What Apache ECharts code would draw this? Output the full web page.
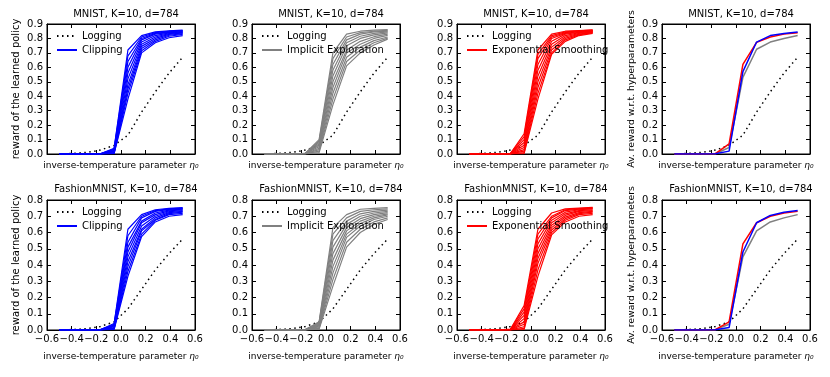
<!DOCTYPE html>
<html>
<head>
<meta charset="utf-8">
<script src="https://cdn.jsdelivr.net/npm/echarts@6.0.0/dist/echarts.min.js"></script>
<style>
    html, body { margin: 0; padding: 0; background: #fff; }
    #chart { width: 830px; height: 377px; }
</style>
</head>
<body>
<div id="chart"></div>
<script>
    // inverse-temperature parameter eta0 (x positions of all curves)
    const eta = [-0.5, -0.389, -0.278, -0.167, -0.056, 0.056, 0.167, 0.278, 0.389, 0.5];

    // logging policy reward
    const logMnist   = [0.0, 0.004, 0.011, 0.027, 0.06, 0.13, 0.29, 0.43, 0.56, 0.67];
    const logFashion = [0.0, 0.003, 0.008, 0.022, 0.05, 0.13, 0.25, 0.37, 0.47, 0.56];

    // MNIST, one curve per hyperparameter value
    const clipMnist = [
        [0, 0, 0, 0.002, 0.040, 0.72, 0.82, 0.845, 0.852, 0.858],
        [0, 0, 0, 0.002, 0.035, 0.68, 0.81, 0.840, 0.850, 0.855],
        [0, 0, 0, 0.002, 0.030, 0.64, 0.80, 0.835, 0.846, 0.852],
        [0, 0, 0, 0.001, 0.025, 0.60, 0.79, 0.830, 0.842, 0.848],
        [0, 0, 0, 0.001, 0.020, 0.56, 0.775, 0.820, 0.838, 0.845],
        [0, 0, 0, 0.001, 0.015, 0.52, 0.76, 0.810, 0.833, 0.842],
        [0, 0, 0, 0.001, 0.010, 0.48, 0.745, 0.800, 0.828, 0.838],
        [0, 0, 0, 0.000, 0.008, 0.45, 0.73, 0.790, 0.822, 0.833],
        [0, 0, 0, 0.000, 0.005, 0.42, 0.715, 0.780, 0.815, 0.828],
        [0, 0, 0, 0.000, 0.003, 0.38, 0.70, 0.770, 0.805, 0.820]
    ];
    const ixMnist = [
        [0, 0, 0, 0.005, 0.100, 0.70, 0.83, 0.850, 0.857, 0.862],
        [0, 0, 0, 0.005, 0.090, 0.66, 0.81, 0.840, 0.850, 0.856],
        [0, 0, 0, 0.004, 0.080, 0.62, 0.79, 0.830, 0.845, 0.851],
        [0, 0, 0, 0.004, 0.070, 0.58, 0.77, 0.815, 0.835, 0.845],
        [0, 0, 0, 0.003, 0.060, 0.54, 0.75, 0.800, 0.825, 0.839],
        [0, 0, 0, 0.003, 0.050, 0.50, 0.72, 0.780, 0.812, 0.830],
        [0, 0, 0, 0.002, 0.040, 0.46, 0.70, 0.760, 0.800, 0.821],
        [0, 0, 0, 0.002, 0.030, 0.42, 0.67, 0.740, 0.785, 0.810],
        [0, 0, 0, 0.001, 0.020, 0.38, 0.64, 0.720, 0.770, 0.802],
        [0, 0, 0, 0.001, 0.010, 0.34, 0.61, 0.700, 0.755, 0.795]
    ];
    const esMnist = [
        [0, 0, 0, 0.003, 0.140, 0.72, 0.83, 0.850, 0.855, 0.860],
        [0, 0, 0, 0.003, 0.120, 0.69, 0.82, 0.845, 0.852, 0.857],
        [0, 0, 0, 0.002, 0.100, 0.66, 0.81, 0.840, 0.850, 0.855],
        [0, 0, 0, 0.002, 0.080, 0.62, 0.80, 0.835, 0.847, 0.852],
        [0, 0, 0, 0.002, 0.060, 0.58, 0.78, 0.830, 0.843, 0.850],
        [0, 0, 0, 0.001, 0.045, 0.54, 0.76, 0.820, 0.840, 0.848],
        [0, 0, 0, 0.001, 0.030, 0.50, 0.74, 0.810, 0.835, 0.845],
        [0, 0, 0, 0.001, 0.020, 0.46, 0.72, 0.800, 0.830, 0.842],
        [0, 0, 0, 0.000, 0.010, 0.42, 0.70, 0.790, 0.825, 0.840],
        [0, 0, 0, 0.000, 0.003, 0.38, 0.69, 0.780, 0.820, 0.835]
    ];

    // FashionMNIST, one curve per hyperparameter value
    const clipFashion = [
        [0, 0, 0, 0.002, 0.040, 0.62, 0.71, 0.740, 0.748, 0.753],
        [0, 0, 0, 0.002, 0.035, 0.58, 0.70, 0.735, 0.745, 0.750],
        [0, 0, 0, 0.002, 0.030, 0.54, 0.69, 0.730, 0.742, 0.747],
        [0, 0, 0, 0.001, 0.025, 0.51, 0.67, 0.720, 0.738, 0.744],
        [0, 0, 0, 0.001, 0.020, 0.48, 0.66, 0.710, 0.733, 0.740],
        [0, 0, 0, 0.001, 0.015, 0.45, 0.64, 0.700, 0.728, 0.735],
        [0, 0, 0, 0.001, 0.010, 0.42, 0.62, 0.690, 0.722, 0.730],
        [0, 0, 0, 0.000, 0.008, 0.39, 0.61, 0.680, 0.716, 0.725],
        [0, 0, 0, 0.000, 0.005, 0.36, 0.59, 0.675, 0.710, 0.718],
        [0, 0, 0, 0.000, 0.003, 0.33, 0.575, 0.665, 0.700, 0.710]
    ];
    const ixFashion = [
        [0, 0, 0, 0.003, 0.050, 0.63, 0.71, 0.743, 0.748, 0.753],
        [0, 0, 0, 0.003, 0.045, 0.59, 0.69, 0.730, 0.740, 0.745],
        [0, 0, 0, 0.002, 0.040, 0.55, 0.67, 0.715, 0.730, 0.738],
        [0, 0, 0, 0.002, 0.035, 0.51, 0.65, 0.700, 0.720, 0.730],
        [0, 0, 0, 0.002, 0.030, 0.47, 0.63, 0.685, 0.710, 0.722],
        [0, 0, 0, 0.001, 0.025, 0.43, 0.61, 0.670, 0.700, 0.715],
        [0, 0, 0, 0.001, 0.020, 0.39, 0.59, 0.655, 0.690, 0.708],
        [0, 0, 0, 0.001, 0.015, 0.35, 0.57, 0.640, 0.680, 0.700],
        [0, 0, 0, 0.000, 0.010, 0.31, 0.54, 0.620, 0.665, 0.690],
        [0, 0, 0, 0.000, 0.005, 0.27, 0.51, 0.600, 0.650, 0.680]
    ];
    const esFashion = [
        [0, 0, 0, 0.005, 0.150, 0.62, 0.72, 0.745, 0.750, 0.755],
        [0, 0, 0, 0.004, 0.130, 0.59, 0.70, 0.740, 0.747, 0.752],
        [0, 0, 0, 0.003, 0.110, 0.56, 0.69, 0.735, 0.744, 0.749],
        [0, 0, 0, 0.003, 0.090, 0.53, 0.675, 0.725, 0.740, 0.745],
        [0, 0, 0, 0.002, 0.070, 0.50, 0.66, 0.715, 0.735, 0.740],
        [0, 0, 0, 0.002, 0.050, 0.47, 0.645, 0.705, 0.730, 0.735],
        [0, 0, 0, 0.001, 0.035, 0.44, 0.63, 0.695, 0.722, 0.730],
        [0, 0, 0, 0.001, 0.020, 0.41, 0.615, 0.685, 0.716, 0.725],
        [0, 0, 0, 0.000, 0.010, 0.37, 0.60, 0.675, 0.710, 0.718],
        [0, 0, 0, 0.000, 0.003, 0.33, 0.585, 0.665, 0.700, 0.710]
    ];

    // average reward w.r.t. hyperparameters
    const avgMnistIx     = [0, 0, 0, 0.002, 0.045, 0.53, 0.725, 0.775, 0.800, 0.820];
    const avgMnistEs     = [0, 0, 0, 0.002, 0.070, 0.62, 0.773, 0.810, 0.830, 0.840];
    const avgMnistClip   = [0, 0, 0, 0.001, 0.020, 0.57, 0.775, 0.820, 0.835, 0.845];
    const avgFashionIx   = [0, 0, 0, 0.002, 0.035, 0.45, 0.610, 0.665, 0.690, 0.710];
    const avgFashionEs   = [0, 0, 0, 0.002, 0.050, 0.53, 0.660, 0.700, 0.720, 0.730];
    const avgFashionClip = [0, 0, 0, 0.001, 0.015, 0.48, 0.660, 0.705, 0.725, 0.735];

    const font = 'DejaVu Sans';
    const lefts = [47, 252, 457, 662];
    const tops = [24, 200];
    const W = 148, H = 130;
    const BLUE = '#0000ff', RED = '#ff0000', GRAY = '#808080';

    const panels = [
        {row: 0, col: 0, log: logMnist, curves: clipMnist, color: BLUE, name: 'Clipping'},
        {row: 0, col: 1, log: logMnist, curves: ixMnist, color: GRAY, name: 'Implicit Exploration'},
        {row: 0, col: 2, log: logMnist, curves: esMnist, color: RED, name: 'Exponential Smoothing'},
        {row: 0, col: 3, log: logMnist, avg: [[avgMnistIx, GRAY], [avgMnistEs, RED], [avgMnistClip, BLUE]]},
        {row: 1, col: 0, log: logFashion, curves: clipFashion, color: BLUE, name: 'Clipping'},
        {row: 1, col: 1, log: logFashion, curves: ixFashion, color: GRAY, name: 'Implicit Exploration'},
        {row: 1, col: 2, log: logFashion, curves: esFashion, color: RED, name: 'Exponential Smoothing'},
        {row: 1, col: 3, log: logFashion, avg: [[avgFashionIx, GRAY], [avgFashionEs, RED], [avgFashionClip, BLUE]]}
    ];
    const titles = ['MNIST, K=10, d=784', 'FashionMNIST, K=10, d=784'];
    const yMax = [0.9, 0.8];

    const fmt = v => v.toFixed(1).replace('-', '\u2212');
    const zip = ys => eta.map((x, k) => [x, ys[k]]);

    const grid = [], xAxis = [], yAxis = [], series = [], title = [], legend = [];

    panels.forEach((p, i) => {
        const left = lefts[p.col], top = tops[p.row];
        grid.push({left: left, top: top, width: W, height: H, show: true, borderColor: '#000', borderWidth: 1});

        const tick = {inside: true, length: 4, lineStyle: {color: '#000'}};
        const line = {show: true, onZero: false, lineStyle: {color: '#000', width: 1}};
        // main x axis + mirrored top axis (ticks only)
        xAxis.push({
            gridIndex: i, type: 'value', min: -0.6, max: 0.6, interval: 0.2,
            axisLine: line, axisTick: tick, splitLine: {show: false},
            axisLabel: {show: p.row === 1, formatter: fmt, color: '#000', fontSize: 10, fontFamily: font, margin: 4},
            name: '{a|inverse-temperature parameter }{b|\u03b7\u2080}',
            nameLocation: 'middle', nameGap: p.row === 1 ? 22 : 7,
            nameTextStyle: {
                color: '#000', fontFamily: font,
                rich: {a: {fontSize: 9, fontFamily: font, color: '#000'}, b: {fontSize: 9, fontStyle: 'italic', fontFamily: font, color: '#000'}}
            }
        });
        xAxis.push({
            gridIndex: i, type: 'value', position: 'top', min: -0.6, max: 0.6, interval: 0.2,
            axisLine: line, axisTick: tick, axisLabel: {show: false}, splitLine: {show: false}
        });
        // main y axis + mirrored right axis
        const yName = p.col === 0 ? 'reward of the learned policy' : (p.col === 3 ? 'Av. reward w.r.t. hyperparameters' : '');
        yAxis.push({
            gridIndex: i, type: 'value', min: 0, max: yMax[p.row], interval: 0.1,
            axisLine: line, axisTick: tick, splitLine: {show: false},
            axisLabel: {formatter: fmt, color: '#000', fontSize: 10, fontFamily: font, margin: 4},
            name: yName, nameLocation: 'middle', nameGap: 26,
            nameTextStyle: {color: '#000', fontSize: p.col === 3 ? 9.3 : 10, fontFamily: font}
        });
        yAxis.push({
            gridIndex: i, type: 'value', position: 'right', min: 0, max: yMax[p.row], interval: 0.1,
            axisLine: line, axisTick: tick, axisLabel: {show: false}, splitLine: {show: false}
        });

        title.push({
            text: titles[p.row], left: left + W / 2, top: p.row === 0 ? 4 : 179, textAlign: 'center',
            textStyle: {fontSize: 10, fontWeight: 'normal', fontFamily: font, color: '#000'}
        });

        // logging policy, dotted black
        series.push({
            name: 'Logging', type: 'line', xAxisIndex: 2 * i, yAxisIndex: 2 * i,
            data: zip(p.log), showSymbol: false, symbol: 'none', color: '#000',
            lineStyle: {color: '#000', width: 1.5, type: [1.5, 3.5]}, z: 2
        });

        if (p.curves) {
            p.curves.forEach(c => {
                series.push({
                    name: p.name, type: 'line', xAxisIndex: 2 * i, yAxisIndex: 2 * i,
                    data: zip(c), showSymbol: false, symbol: 'none', color: p.color,
                    lineStyle: {color: p.color, width: 1.2}, z: 3
                });
            });
            legend.push({
                data: ['Logging', p.name], orient: 'vertical', left: left + 9, top: top + 7,
                padding: 0, itemWidth: 20, itemHeight: 8, itemGap: 4, selectedMode: false,
                itemStyle: {opacity: 0},
                textStyle: {fontSize: 10, fontFamily: font, color: '#000'}
            });
        } else {
            p.avg.forEach(a => {
                series.push({
                    name: 'avg' + i + a[1], type: 'line', xAxisIndex: 2 * i, yAxisIndex: 2 * i,
                    data: zip(a[0]), showSymbol: false, symbol: 'none', color: a[1],
                    lineStyle: {color: a[1], width: 1.5}, z: 3
                });
            });
        }
    });

    const chart = echarts.init(document.getElementById('chart'));
    chart.setOption({
        animation: false,
        backgroundColor: '#fff',
        textStyle: {fontFamily: font},
        title: title,
        legend: legend,
        grid: grid,
        xAxis: xAxis,
        yAxis: yAxis,
        series: series
    });
</script>
</body>
</html>
